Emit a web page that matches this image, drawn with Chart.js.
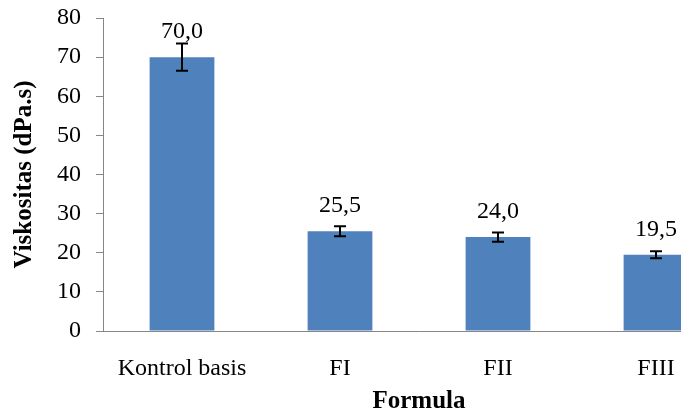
<!DOCTYPE html>
<html>
<head>
<meta charset="utf-8">
<script src="https://cdn.jsdelivr.net/npm/chart.js@4/dist/chart.umd.min.js"></script>
<style>
  html, body { margin: 0; padding: 0; background: #fff; overflow: hidden; }
  #wrap { position: relative; width: 740px; height: 425px; }
</style>
</head>
<body>
<div id="wrap"><canvas id="chart"></canvas></div>
<script>
// ---- data ----
const formulas = ['Kontrol basis', 'FI', 'FII', 'FIII'];
const viscosity = [70.0, 25.5, 24.0, 19.5];
const viscosityErr = [3.5, 1.3, 1.2, 0.9];
const yTicks = [0, 10, 20, 30, 40, 50, 60, 70, 80];

const SERIF = '"Liberation Serif", "Times New Roman", serif';
const AXIS_GREY = '#868686';

// error bars + value labels, drawn through the chart scales
const errorBarPlugin = {
  id: 'errorBars',
  afterDatasetsDraw(chart) {
    const { ctx, scales: { x, y } } = chart;
    ctx.save();
    ctx.strokeStyle = '#000';
    ctx.lineWidth = 2;
    viscosity.forEach((v, i) => {
      const cx = x.getPixelForValue(i);
      const hi = y.getPixelForValue(v + viscosityErr[i]);
      const lo = y.getPixelForValue(v - viscosityErr[i]);
      ctx.beginPath();
      ctx.moveTo(cx, hi); ctx.lineTo(cx, lo);
      ctx.moveTo(cx - 6, hi); ctx.lineTo(cx + 6, hi);
      ctx.moveTo(cx - 6, lo); ctx.lineTo(cx + 6, lo);
      ctx.stroke();
    });
    ctx.fillStyle = '#000';
    ctx.font = '24px ' + SERIF;
    ctx.textAlign = 'center';
    ctx.textBaseline = 'alphabetic';
    viscosity.forEach((v, i) => {
      const cx = x.getPixelForValue(i);
      const ty = y.getPixelForValue(v) - 19;
      ctx.fillText(v.toFixed(1).replace('.', ','), cx, ty);
    });
    ctx.restore();
  }
};

new Chart(document.getElementById('chart'), {
  type: 'bar',
  data: {
    labels: formulas,
    datasets: [{
      data: viscosity,
      backgroundColor: '#4F81BD',
      borderWidth: 0,
      barPercentage: 0.41,
      categoryPercentage: 1.0
    }]
  },
  options: {
    responsive: true,
    maintainAspectRatio: false,
    animation: false,
    devicePixelRatio: 1,
    layout: { padding: { top: 18, right: 5, left: 0, bottom: 0 } },
    plugins: { legend: { display: false }, tooltip: { enabled: false } },
    scales: {
      x: {
        grid: { display: false, drawTicks: false },
        border: { display: true, color: AXIS_GREY, width: 1 },
        ticks: { color: '#000', font: { family: SERIF, size: 24 }, padding: 23, maxRotation: 0 },
        title: {
          display: true, text: 'Formula', color: '#000',
          font: { family: SERIF, size: 25, weight: 'bold' },
          padding: { top: 0, bottom: 8 }
        },
        afterFit: (scale) => { scale.height = 94; scale.paddingLeft = 0; scale.paddingRight = 0; }
      },
      y: {
        min: 0, max: 80,
        afterBuildTicks: (scale) => { scale.ticks = yTicks.map(v => ({ value: v })); },
        grid: { display: true, drawOnChartArea: false, drawTicks: true, tickLength: 7, color: AXIS_GREY },
        border: { display: true, color: AXIS_GREY, width: 1 },
        ticks: { color: '#000', font: { family: SERIF, size: 24 }, padding: 15 },
        title: {
          display: true, text: 'Viskositas (dPa.s)', color: '#000',
          font: { family: SERIF, size: 25, weight: 'bold' },
          padding: { top: 10, bottom: 0 }
        },
        afterFit: (scale) => { scale.width = 103; scale.paddingTop = 0; scale.paddingBottom = 0; }
      }
    }
  },
  plugins: [errorBarPlugin]
});
</script>
</body>
</html>
